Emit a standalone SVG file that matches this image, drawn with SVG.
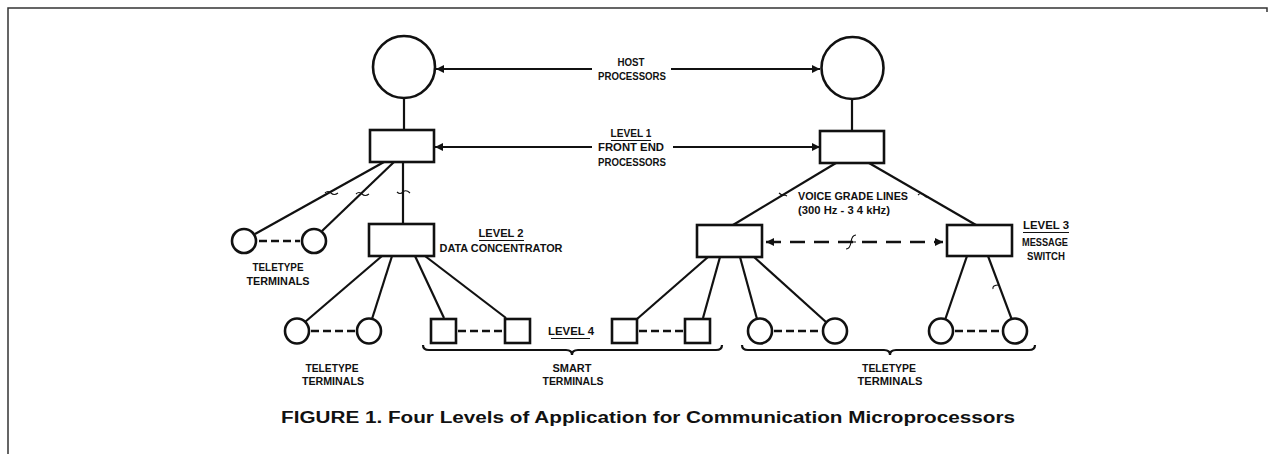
<svg xmlns="http://www.w3.org/2000/svg" width="1275" height="454" viewBox="0 0 1275 454">
<defs>
<style>
.s{fill:#fff;stroke:#111;stroke-width:2.6}
.c{stroke:#111;stroke-width:2.2;fill:none}
.d{stroke:#111;stroke-width:2.4;fill:none;stroke-dasharray:8 4}
.dl{stroke:#111;stroke-width:2.6;fill:none;stroke-dasharray:15 9}
.t{stroke:#111;stroke-width:1.1;fill:none}
.u{stroke:#111;stroke-width:1}
text{font-family:"Liberation Sans",Arial,sans-serif;font-weight:bold;fill:#111;text-anchor:middle}
.l{font-size:10.5px}
.cap{font-size:16px}
</style>
<marker id="ah" viewBox="0 0 10 10" refX="10" refY="5" markerWidth="10" markerHeight="8" markerUnits="userSpaceOnUse" orient="auto-start-reverse">
<path d="M0,0 L10,5 L0,10 z" fill="#111"/>
</marker>
</defs>
<rect width="1275" height="454" fill="#fff"/>
<path d="M8,454 V8 H1267 V12" fill="none" stroke="#333" stroke-width="1.5"/>

<g id="connectors">
<line class="c" x1="404" y1="98" x2="404" y2="130"/>
<line class="c" x1="852" y1="99" x2="852" y2="131"/>
<line class="c" x1="592" y1="69" x2="436" y2="69" marker-end="url(#ah)"/>
<line class="c" x1="671" y1="69" x2="820" y2="69" marker-end="url(#ah)"/>
<line class="c" x1="592" y1="147" x2="435" y2="147" marker-end="url(#ah)"/>
<line class="c" x1="673" y1="147" x2="820" y2="147" marker-end="url(#ah)"/>
<line class="c" x1="384" y1="162" x2="255" y2="234"/>
<line class="c" x1="394" y1="162" x2="322" y2="231"/>
<line class="c" x1="403" y1="162" x2="403" y2="224"/>
<line class="c" x1="382" y1="256" x2="305" y2="322"/>
<line class="c" x1="392" y1="256" x2="372" y2="319"/>
<line class="c" x1="415" y1="256" x2="444" y2="318"/>
<line class="c" x1="425" y1="256" x2="506" y2="318"/>
<line class="c" x1="836" y1="163" x2="733" y2="225"/>
<line class="c" x1="869" y1="163" x2="976" y2="225"/>
<line class="c" x1="708" y1="257" x2="637" y2="319"/>
<line class="c" x1="720" y1="257" x2="703" y2="318"/>
<line class="c" x1="740" y1="257" x2="757" y2="319"/>
<line class="c" x1="754" y1="257" x2="826" y2="322"/>
<line class="c" x1="967" y1="256" x2="945" y2="320"/>
<line class="c" x1="988" y1="256" x2="1012" y2="320"/>
<line class="dl" x1="766" y1="242" x2="943" y2="242" marker-start="url(#ah)" marker-end="url(#ah)"/>
<line class="d" x1="259" y1="241" x2="300" y2="241"/>
<line class="d" x1="311" y1="331" x2="356" y2="331"/>
<line class="d" x1="458" y1="331" x2="504" y2="331"/>
<line class="d" x1="639" y1="331" x2="684" y2="331"/>
<line class="d" x1="774" y1="331" x2="822" y2="331"/>
<line class="d" x1="955" y1="331" x2="1002" y2="331"/>
<path class="t" d="M325,193 q3,-3 6,0 q3,3 7,0"/>
<path class="t" d="M356,194 q3,-3 6,0 q3,3 7,0"/>
<path class="t" d="M397,192 q3,3 6,0 q3,-3 7,1"/>
<path class="t" d="M779,193 q3,3 6,2 l2,1"/>
<path class="t" d="M918,195 q3,-3 6,0 q2,3 5,2"/>
<path class="t" d="M993,289 q-1,-4 6,-4"/>
<path class="t" stroke-width="1.4" d="M846,249 q4,0 5,-7 q1,-7 5,-7 M846,242 h10"/>
</g>

<g id="host-left"><circle class="s" cx="404" cy="67" r="31"/></g>
<g id="host-right"><circle class="s" cx="852.5" cy="68" r="31"/></g>
<g id="fep-left"><rect class="s" x="370" y="130" width="64" height="32"/></g>
<g id="fep-right"><rect class="s" x="820" y="131" width="64" height="32"/></g>
<g id="data-concentrator"><rect class="s" x="369" y="224" width="65" height="32"/></g>
<g id="remote-concentrator"><rect class="s" x="697" y="225" width="65" height="32"/></g>
<g id="message-switch"><rect class="s" x="947" y="225" width="65" height="31"/></g>

<g id="teletype-upper">
<circle class="s" cx="244" cy="241" r="12"/>
<circle class="s" cx="314" cy="241" r="12"/>
</g>
<g id="teletype-bottom-left">
<ellipse class="s" cx="297" cy="331" rx="12" ry="12.5"/>
<ellipse class="s" cx="369" cy="331" rx="12" ry="12.5"/>
</g>
<g id="smart-terminals">
<rect class="s" x="431" y="319" width="25" height="24"/>
<rect class="s" x="505" y="319" width="25" height="24"/>
<rect class="s" x="612" y="319" width="25" height="24"/>
<rect class="s" x="685" y="319" width="25" height="24"/>
</g>
<g id="teletype-bottom-right">
<ellipse class="s" cx="760" cy="331" rx="12" ry="12.5"/>
<ellipse class="s" cx="835" cy="331" rx="12" ry="12.5"/>
<ellipse class="s" cx="941" cy="331" rx="12" ry="12.5"/>
<ellipse class="s" cx="1015" cy="331" rx="12" ry="12.5"/>
</g>

<g id="braces">
<path class="c" stroke-width="1.6" d="M423,345 q0,5 6,5 H566 q6,0 6,5 q0,-5 6,-5 H716 q6,0 6,-5"/>
<path class="c" stroke-width="1.6" d="M742,345 q0,5 6,5 H884 q6,0 6,5 q0,-5 6,-5 H1029 q6,0 6,-5"/>
</g>

<g id="labels">
<text class="l" x="631" y="66" textLength="27" lengthAdjust="spacingAndGlyphs">HOST</text>
<text class="l" x="632" y="80" textLength="68" lengthAdjust="spacingAndGlyphs">PROCESSORS</text>
<text class="l" x="631" y="137" textLength="41" lengthAdjust="spacingAndGlyphs">LEVEL 1</text>
<line class="u" x1="611" y1="140.5" x2="651" y2="140.5"/>
<text class="l" x="631" y="151" textLength="66" lengthAdjust="spacingAndGlyphs">FRONT END</text>
<text class="l" x="632" y="166" textLength="68" lengthAdjust="spacingAndGlyphs">PROCESSORS</text>
<text class="l" x="853" y="200" textLength="110" lengthAdjust="spacingAndGlyphs">VOICE GRADE LINES</text>
<text class="l" x="844" y="214" textLength="92" lengthAdjust="spacingAndGlyphs">(300 Hz - 3 4 kHz)</text>
<text class="l" x="501" y="237" textLength="45" lengthAdjust="spacingAndGlyphs">LEVEL 2</text>
<line class="u" x1="479" y1="240.5" x2="524" y2="240.5"/>
<text class="l" x="501" y="252" textLength="123" lengthAdjust="spacingAndGlyphs">DATA CONCENTRATOR</text>
<text class="l" x="278" y="271" textLength="51" lengthAdjust="spacingAndGlyphs">TELETYPE</text>
<text class="l" x="278" y="285" textLength="63" lengthAdjust="spacingAndGlyphs">TERMINALS</text>
<text class="l" x="1046" y="229" textLength="46" lengthAdjust="spacingAndGlyphs">LEVEL 3</text>
<line class="u" x1="1023" y1="232.5" x2="1069" y2="232.5"/>
<text class="l" x="1045" y="246" textLength="46" lengthAdjust="spacingAndGlyphs">MESSAGE</text>
<text class="l" x="1046" y="260" textLength="38" lengthAdjust="spacingAndGlyphs">SWITCH</text>
<text class="l" x="571" y="335" textLength="46" lengthAdjust="spacingAndGlyphs">LEVEL 4</text>
<line class="u" x1="551" y1="338.5" x2="590" y2="338.5"/>
<text class="l" x="332" y="372" textLength="53" lengthAdjust="spacingAndGlyphs">TELETYPE</text>
<text class="l" x="333" y="385" textLength="62" lengthAdjust="spacingAndGlyphs">TERMINALS</text>
<text class="l" x="572" y="372" textLength="39" lengthAdjust="spacingAndGlyphs">SMART</text>
<text class="l" x="573" y="385" textLength="61" lengthAdjust="spacingAndGlyphs">TERMINALS</text>
<text class="l" x="889" y="372" textLength="54" lengthAdjust="spacingAndGlyphs">TELETYPE</text>
<text class="l" x="890" y="385" textLength="65" lengthAdjust="spacingAndGlyphs">TERMINALS</text>
<text class="cap" x="648" y="423" textLength="734" lengthAdjust="spacingAndGlyphs">FIGURE 1. Four Levels of Application for Communication Microprocessors</text>
</g>
</svg>
